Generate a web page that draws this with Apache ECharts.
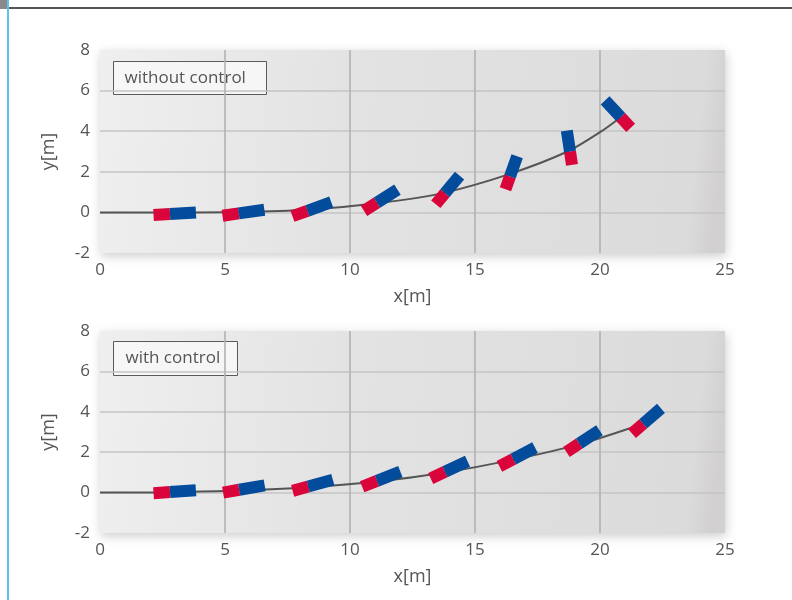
<!DOCTYPE html>
<html>
<head>
<meta charset="utf-8">
<script src="https://cdn.jsdelivr.net/npm/echarts@6/dist/echarts.min.js"></script>
<style>html,body{margin:0;padding:0;background:#fff;}#c{width:792px;height:600px;}</style>
</head>
<body>
<div id="c"></div>
<script>
// ---- data ----
const panelTitles = ['without control', 'with control'];
const xTicks = [0, 5, 10, 15, 20, 25];
const yTicks = [-2, 0, 2, 4, 6, 8];
const axisNames = ['x[m]', 'y[m]'];

// trajectory without control: [x, y]
const pathNoControl = [[0,0],[1.5,0],[2.8,0],[5.5,0.02],[8.3,0.13],[11.1,0.45],[13.7,0.95],[16.4,1.9],[18.7,3.0],[20.0,3.95],[20.83,4.69]];
// vehicle poses without control: [x, y, heading deg]
const carsNoControl = [[2.8,-0.08,4],[5.55,-0.05,10],[8.3,0.08,24],[11.08,0.48,38],[13.8,0.95,56],[16.4,1.77,74],[18.8,3.0,97],[20.83,4.69,127]];

// trajectory with control
const pathControl = [[0,0],[1.5,0],[2.8,0.02],[5.6,0.1],[8.3,0.26],[11.1,0.55],[13.8,1.0],[16.5,1.62],[19.2,2.4],[21.73,3.41]];
// vehicle poses with control
const carsControl = [[2.8,0.03,5],[5.57,0.14,12],[8.33,0.3,19],[11.08,0.58,26],[13.8,1.03,30],[16.53,1.66,33],[19.17,2.43,39],[21.73,3.41,47]];

// ---- rendering ----
const REAR = 0.66, FRONT = 1.04, THICK = 12;
const RED = '#d9043a', BLUE = '#034b9b';
const FONT = 'Open Sans';
const TXT = '#555555';

function renderCar(params, api) {
  const x = api.value(0), y = api.value(1), th = api.value(2) * Math.PI / 180;
  const c = Math.cos(th), s = Math.sin(th);
  const pJ = api.coord([x, y]);
  const pR = api.coord([x - REAR * c, y - REAR * s]);
  const pB = api.coord([x + FRONT * c, y + FRONT * s]);
  const dx = pB[0] - pR[0], dy = pB[1] - pR[1];
  const len = Math.hypot(dx, dy);
  const nx = -dy / len * THICK / 2, ny = dx / len * THICK / 2;
  const quad = (a, b) => [[a[0]+nx,a[1]+ny],[b[0]+nx,b[1]+ny],[b[0]-nx,b[1]-ny],[a[0]-nx,a[1]-ny]];
  return {
    type: 'group',
    children: [
      { type: 'polygon', shape: { points: quad(pR, pJ) }, style: { fill: RED } },
      { type: 'polygon', shape: { points: quad(pJ, pB) }, style: { fill: BLUE } }
    ]
  };
}

const grids = [
  { left: 100, top: 50, width: 625, height: 203 },
  { left: 100, top: 331, width: 625, height: 202 }
];
const bg = {
  type: 'linear', x: 0, y: 0, x2: 1, y2: 0.35,
  colorStops: [
    { offset: 0, color: '#efefef' },
    { offset: 0.4, color: '#e4e3e4' },
    { offset: 0.96, color: '#dcdbdb' },
    { offset: 1, color: '#d2d0d0' }
  ]
};

const option = {
  animation: false,
  backgroundColor: '#ffffff',
  grid: grids.map(g => Object.assign({
    show: true, backgroundColor: bg, borderWidth: 0,
    shadowBlur: 10, shadowColor: 'rgba(0,0,0,0.2)', shadowOffsetX: 1, shadowOffsetY: 3
  }, g)),
  xAxis: [0, 1].map(i => ({
    type: 'value', gridIndex: i,
    min: xTicks[0], max: xTicks[xTicks.length - 1], interval: xTicks[1] - xTicks[0],
    name: axisNames[0], nameLocation: 'middle', nameGap: 35,
    nameTextStyle: { fontFamily: FONT, fontSize: 18, color: TXT },
    axisLine: { show: false }, axisTick: { show: false },
    axisLabel: { fontFamily: FONT, fontSize: 17, color: TXT, margin: 9 },
    splitLine: { show: true, showMinLine: false, showMaxLine: false, lineStyle: { color: '#b2b2b2', width: 1.6 } }
  })),
  yAxis: [0, 1].map(i => ({
    type: 'value', gridIndex: i,
    min: yTicks[0], max: yTicks[yTicks.length - 1], interval: yTicks[1] - yTicks[0],
    name: axisNames[1], nameLocation: 'middle', nameGap: 42,
    nameTextStyle: { fontFamily: FONT, fontSize: 18, color: TXT },
    axisLine: { show: false }, axisTick: { show: false },
    axisLabel: { fontFamily: FONT, fontSize: 17, color: TXT, margin: 10 },
    splitLine: { show: true, showMinLine: false, showMaxLine: false, lineStyle: { color: '#c5c5c5', width: 1.6 } }
  })),
  series: [
    { type: 'line', xAxisIndex: 0, yAxisIndex: 0, data: pathNoControl, smooth: 0.3, showSymbol: false, z: 2,
      lineStyle: { color: '#555555', width: 2 } },
    { type: 'custom', xAxisIndex: 0, yAxisIndex: 0, data: carsNoControl, renderItem: renderCar, z: 3 },
    { type: 'line', xAxisIndex: 1, yAxisIndex: 1, data: pathControl, smooth: 0.3, showSymbol: false, z: 2,
      lineStyle: { color: '#555555', width: 2 } },
    { type: 'custom', xAxisIndex: 1, yAxisIndex: 1, data: carsControl, renderItem: renderCar, z: 3 }
  ],
  graphic: [
    { type: 'rect', left: 0, top: 0, shape: { width: 7, height: 9 }, style: { fill: '#8a8a8a' }, z: 10 },
    { type: 'rect', left: 7, top: 7, shape: { width: 785, height: 2 }, style: { fill: '#555555' }, z: 10 },
    { type: 'rect', left: 7, top: 0, shape: { width: 2, height: 600 }, style: { fill: '#5ec3ea' }, z: 10 },
    { type: 'group', left: 113, top: 61, z: 20, children: [
      { type: 'rect', shape: { x: 0, y: 0, width: 153, height: 33 },
        style: { fill: 'rgba(248,248,248,0.85)', stroke: '#5a5a5a', lineWidth: 1 } },
      { type: 'text', x: 11, y: 16.5, style: { text: panelTitles[0], font: '17px "Open Sans"', fill: TXT, verticalAlign: 'middle' } }
    ]},
    { type: 'group', left: 113, top: 341, z: 20, children: [
      { type: 'rect', shape: { x: 0, y: 0, width: 124, height: 34 },
        style: { fill: 'rgba(248,248,248,0.85)', stroke: '#5a5a5a', lineWidth: 1 } },
      { type: 'text', x: 12, y: 17, style: { text: panelTitles[1], font: '17px "Open Sans"', fill: TXT, verticalAlign: 'middle' } }
    ]}
  ]
};

const chart = echarts.init(document.getElementById('c'), null, { renderer: 'canvas' });
chart.setOption(option);
</script>
</body>
</html>
